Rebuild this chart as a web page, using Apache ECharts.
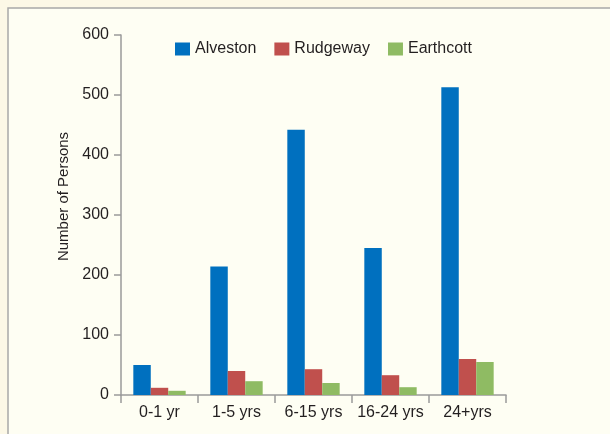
<!DOCTYPE html>
<html>
<head>
<meta charset="utf-8">
<script src="https://cdn.jsdelivr.net/npm/echarts@6/dist/echarts.min.js"></script>
<style>
  html, body { margin: 0; padding: 0; background: #fcf8e6; }
  #chart { width: 610px; height: 434px; }
</style>
</head>
<body>
<div id="chart"></div>
<script>
// data
var categories = ["0-1 yr", "1-5 yrs", "6-15 yrs", "16-24 yrs", "24+yrs"];
var alveston = [50, 214, 442, 245, 513];
var rudgeway = [12, 40, 43, 33, 60];
var earthcott = [7, 23, 20, 13, 55];

var chart = echarts.init(document.getElementById("chart"));
var font = "Liberation Sans, Arial, sans-serif";

function bar(name, data, color) {
  return {
    name: name,
    type: "bar",
    data: data,
    barGap: 0,
    barCategoryGap: "32%",
    itemStyle: { color: color },
    animation: false
  };
}

chart.setOption({
  backgroundColor: "#fcf8e6",
  textStyle: { fontFamily: font },
  graphic: [
    {
      type: "rect",
      z: -10,
      shape: { x: 8, y: 8, width: 620, height: 440 },
      style: { fill: "#fefef3", stroke: "#a8a8a8", lineWidth: 1.5 }
    }
  ],
  grid: { left: 121, right: 104, top: 35, bottom: 39 },
  legend: {
    left: 170,
    top: 36,
    itemWidth: 15,
    itemHeight: 13,
    itemGap: 18,
    icon: "rect",
    textStyle: { fontSize: 16, color: "#231f20", fontFamily: font },
    data: ["Alveston", "Rudgeway", "Earthcott"]
  },
  xAxis: {
    type: "category",
    data: categories,
    axisLine: { lineStyle: { color: "#9a9a9a", width: 1.5 } },
    axisTick: { show: true, length: 8, lineStyle: { color: "#9a9a9a", width: 1.5 } },
    axisLabel: { fontSize: 16, color: "#231f20", margin: 10, interval: 0 }
  },
  yAxis: {
    type: "value",
    min: 0,
    max: 600,
    interval: 100,
    name: "Number of Persons",
    nameLocation: "middle",
    nameGap: 44,
    nameTextStyle: { fontSize: 15, color: "#231f20", padding: [0, 0, 0, 37] },
    splitLine: { show: false },
    axisLine: { show: true, lineStyle: { color: "#9a9a9a", width: 1.5 } },
    axisTick: { show: true, length: 7, lineStyle: { color: "#9a9a9a", width: 1.5 } },
    axisLabel: { fontSize: 16, color: "#231f20", margin: 12 }
  },
  series: [
    bar("Alveston", alveston, "#0070bf"),
    bar("Rudgeway", rudgeway, "#c0504d"),
    bar("Earthcott", earthcott, "#8fbb63")
  ]
});
</script>
</body>
</html>
